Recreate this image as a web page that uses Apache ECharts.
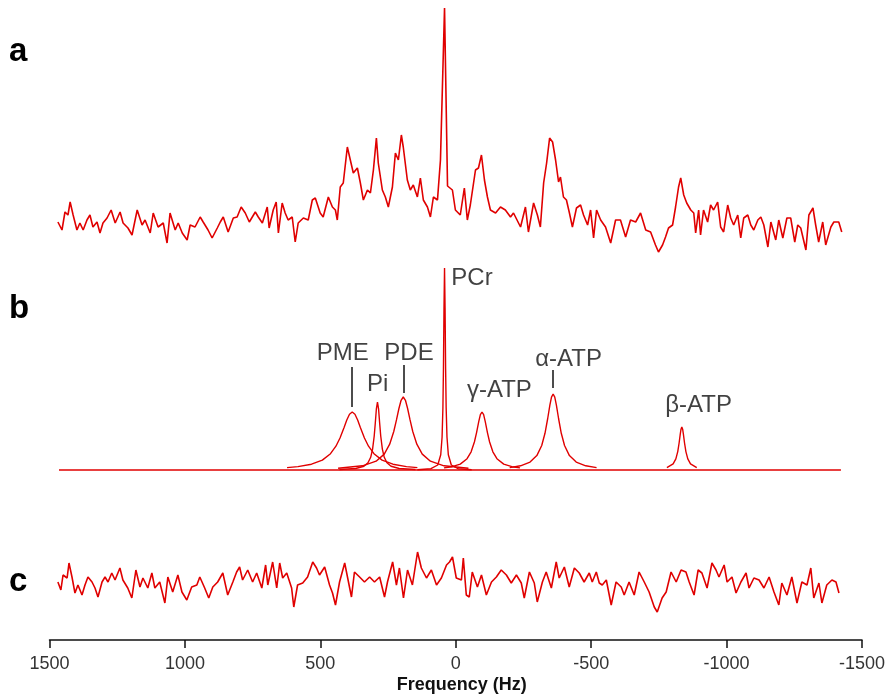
<!DOCTYPE html>
<html>
<head>
<meta charset="utf-8">
<title>31P MR spectrum and fit</title>
<script src="https://cdn.jsdelivr.net/npm/echarts@6/dist/echarts.min.js"></script>
<style>
  html, body { margin: 0; padding: 0; background: #fff; }
  #chart { width: 888px; height: 699px; }
</style>
</head>
<body>
<div id="chart"></div>
<script>
// ---- data (frequency in Hz, intensity in arbitrary units) ----

// a: measured spectrum
const aFreq = [1469, 1454, 1443, 1432, 1424, 1413, 1399, 1388, 1376, 1362, 1351, 1340, 1325, 1314, 1303, 1288, 1273, 1258, 1240, 1229,
  1211, 1196, 1177, 1159, 1148, 1129, 1118, 1100, 1081, 1067, 1056, 1037, 1026, 1011, 993, 982, 964, 945, 934, 916,
  901, 882, 871, 860, 842, 823, 809, 794, 779, 764, 742, 731, 716, 698, 691, 676, 665, 657, 643, 632,
  621, 606, 595, 584, 565, 547, 532, 521, 503, 492, 473, 458, 447, 440, 429, 418, 403, 392, 381, 366,
  355, 344, 329, 318, 307, 296, 289, 274, 263, 252, 237, 226, 215, 204, 197, 182, 171, 160, 145, 134,
  123, 108, 97, 86, 71, 60, 45, 34, 16, 5, -13, -28, -39, -50, -69, -80, -91, -102, -113, -124,
  -143, -161, -179, -198, -209, -235, -253, -264, -283, -297, -308, -320, -331, -342, -353, -364, -375, -382, -393, -404,
  -415, -426, -441, -456, -467, -482, -493, -504, -515, -530, -548, -567, -585, -603, -622, -640, -659, -677, -696, -714,
  -732, -743, -758, -769, -780, -795, -806, -817, -825, -836, -847, -862, -873, -880, -891, -898, -909, -924, -935, -946,
  -961, -972, -983, -998, -1009, -1020, -1035, -1046, -1057, -1072, -1083, -1094, -1109, -1120, -1131, -1146, -1157, -1164, -1175, -1186,
  -1201, -1216, -1230, -1245, -1256, -1267, -1286, -1297, -1312, -1322, -1333, -1348, -1359, -1378, -1389, -1407, -1418];
const aSignal = [4, -4, 14, 11, 24, 11, -4, 3, -4, 6, 11, -1, 4, -7, 3, 8, 16, 3, 14, 3,
  -2, -9, 16, 1, 6, -7, 13, -1, 3, -17, 13, -4, 3, -7, -14, 1, -1, 9, 4, -4,
  -12, -2, 4, 9, -6, 8, 9, 19, 13, 4, 14, 9, 3, 19, -2, 16, 24, -7, 23, 13,
  6, 9, -16, 3, 8, 6, 26, 28, 13, 9, 29, 19, 16, 6, 39, 43, 79, 66, 53, 58,
  43, 26, 36, 33, 56, 88, 63, 36, 29, 19, 39, 73, 66, 91, 79, 46, 36, 41, 29, 48,
  26, 19, 9, 29, 26, 66, 218, 40, 36, 16, 11, 38, 6, 21, 56, 58, 71, 46, 29, 16,
  13, 19, 16, 9, 13, -1, 19, -6, 23, 11, -1, 43, 63, 88, 84, 66, 44, 49, 29, 26,
  13, -1, 18, 21, 11, 1, 16, -12, 16, 6, -1, -17, 6, 6, -11, 6, 4, 13, -4, -6,
  -19, -26, -19, -11, -2, 1, 19, 39, 48, 31, 23, 16, 13, -7, 16, -9, 16, 4, 21, 16,
  24, -1, -6, 21, 8, 1, 11, -12, 8, 11, 1, -4, 6, 9, 1, -21, 4, 6, -14, 6,
  -12, 8, 8, -16, 1, -2, -24, 11, 18, 1, -16, 4, -19, -1, 4, 4, -6];

// b: fitted components
const fitBaseline = [[1465, 0], [-1415, 0]];
const pmeFit = [[625, 2.4], [585, 3.4], [535, 5.8], [495, 9.9], [465, 16.3], [445, 23.8], [430, 32], [415, 42.6], [405, 50], [395, 55.8],
  [385, 58], [375, 55.8], [365, 50], [355, 42.6], [340, 32], [325, 23.8], [305, 16.3], [275, 9.9], [235, 5.8], [185, 3.4], [145, 2.4]];
const piFit = [[432, 0.5], [372, 1.5], [342, 3.7], [327, 7.2], [317, 12.7], [310, 20.9], [304, 34], [300, 47], [296, 61.2],
  [292, 68], [288, 61.2], [284, 47], [280, 34], [274, 20.9], [267, 12.7], [257, 7.2], [242, 3.7], [212, 1.5], [152, 0.5]];
const pdeFit = [[437, 1.7], [347, 4.2], [297, 8.8], [267, 15.9], [247, 25.8], [232, 38.5], [222, 50.1], [213, 61.5], [205, 69.7],
  [197, 73], [189, 69.7], [181, 61.5], [172, 50.1], [162, 38.5], [147, 25.8], [127, 15.9], [97, 8.8], [47, 4.2], [-43, 1.7]];
const pcrFit = [[145, 0.3], [95, 1.3], [70, 5], [59, 15.2], [54, 33], [51, 62], [49, 101], [47, 161.6],
  [45, 202], [43, 161.6], [41, 101], [39, 62], [36, 33], [31, 15.2], [20, 5], [-5, 1.3], [-55, 0.3]];
const gammaAtpFit = [[47, 2.1], [17, 3.3], [-13, 5.9], [-38, 11.3], [-53, 18.2], [-65, 28], [-73, 37.4], [-81, 48.4], [-87, 55.3],
  [-93, 58], [-99, 55.3], [-105, 48.4], [-113, 37.4], [-121, 28], [-133, 18.2], [-148, 11.3], [-173, 5.9], [-203, 3.3], [-233, 2.1]];
const alphaAtpFit = [[-195, 2.4], [-235, 4.2], [-270, 7.9], [-295, 14.4], [-313, 24.5], [-325, 36.7], [-335, 51.5], [-343, 64.9], [-349, 72.9],
  [-355, 76], [-361, 72.9], [-367, 64.9], [-375, 51.5], [-385, 36.7], [-397, 24.5], [-415, 14.4], [-440, 7.9], [-475, 4.2], [-515, 2.4]];
const betaAtpFit = [[-774, 2.3], [-797, 6.1], [-807, 11.1], [-814, 18.4], [-819, 27], [-823, 35.4], [-826, 40.8],
  [-829, 43], [-832, 40.8], [-835, 35.4], [-839, 27], [-844, 18.4], [-851, 11.1], [-861, 6.1], [-884, 2.3]];

// peak labels for b
const peakNames = ['PME', 'Pi', 'PDE', 'PCr', 'γ-ATP', 'α-ATP', 'β-ATP'];
const labelFreq = [420, 291, 176, -56, -157, -412, -891];
const labelHeight = [117, 86, 117, 192, 80, 111, 65];
const leaderFreq = [385, 197, -355];
const leaderLow = [63, 77, 82];
const leaderHigh = [103, 105, 100];

// c: residual
const cFreq = [1469, 1458, 1450, 1435, 1428, 1417, 1406, 1395, 1380, 1369, 1358, 1343, 1332, 1321, 1306, 1295, 1284, 1270, 1258, 1240,
  1229, 1211, 1196, 1181, 1166, 1155, 1137, 1122, 1111, 1093, 1074, 1063, 1045, 1026, 1011, 993, 975, 956, 945, 927,
  912, 897, 879, 860, 842, 823, 809, 798, 787, 768, 750, 735, 716, 702, 694, 676, 661, 650, 639, 624,
  606, 598, 584, 565, 547, 528, 514, 503, 484, 466, 455, 444, 429, 410, 399, 385, 374, 355, 337, 318,
  300, 281, 263, 252, 233, 219, 208, 193, 178, 160, 141, 127, 108, 90, 71, 53, 34, 23, 12, -2,
  -21, -28, -39, -50, -61, -80, -95, -113, -132, -150, -168, -187, -205, -224, -242, -253, -272, -290, -301, -320,
  -334, -353, -371, -382, -401, -419, -438, -456, -474, -493, -504, -519, -530, -541, -556, -574, -592, -611, -622, -640,
  -659, -677, -696, -714, -733, -744, -762, -777, -795, -814, -832, -850, -862, -880, -895, -909, -928, -946, -961, -972,
  -991, -1002, -1020, -1035, -1053, -1072, -1083, -1101, -1120, -1138, -1157, -1175, -1193, -1204, -1223, -1241, -1260, -1278, -1297, -1311,
  -1322, -1341, -1352, -1370, -1389, -1404, -1415];
const cResidual = [1, -7, 8, 5, 20, 6, -10, -2, -12, -2, 6, 1, -5, -14, 1, 6, 1, 10, 3, 15,
  3, -5, -15, 13, -4, 5, -5, 10, -5, 1, -20, 6, -9, 8, -9, -17, -4, -2, 6, -5,
  -15, -4, 1, 10, -12, 1, 11, 16, 3, 13, 1, 10, -5, 18, -2, 21, -5, 20, 5, 10,
  -5, -24, -2, 0, 6, 21, 15, 8, 16, -2, -10, -22, 1, 20, 5, -14, 11, 6, 1, 6,
  1, 6, -14, 1, 21, -2, 15, -15, 13, -2, 31, 15, 5, 13, -2, 5, 18, 21, 26, 5,
  3, 25, -12, -14, 11, -4, 8, -12, 1, 6, 13, 8, 0, 8, 0, -15, 11, 0, -19, 1,
  11, -5, 21, 5, 16, -4, 15, 10, 1, 10, 1, 11, 0, -2, 3, -22, 1, -4, -12, 1,
  -12, 11, 1, -9, -24, -29, -15, -9, 11, 1, 13, 11, 1, -12, 13, 10, -5, 20, 13, 6,
  18, 1, 6, -10, 1, 10, -5, 5, 3, -5, 6, -9, -22, 0, -12, 6, -20, 1, -2, 15,
  -15, 0, -20, -2, 3, 1, -10];

// ---- chart ----
const RED = '#e00000';
const INK = '#111';
const FONT = "'Liberation Sans', Arial, sans-serif";

const pairs = (xs, ys) => xs.map((x, i) => [x, ys[i]]);

const chart = echarts.init(document.getElementById('chart'));

const xBase = { type: 'value', min: -1500, max: 1500, interval: 500, inverse: true };
const gridBase = { left: 49.5, right: 24 };

const traceLine = (data, axis, width) => ({
    type: 'line',
    xAxisIndex: axis,
    yAxisIndex: axis,
    data: data,
    showSymbol: false,
    silent: true,
    lineStyle: { color: RED, width: width },
    z: 3
});

const fitSeries = [fitBaseline, pmeFit, piFit, pdeFit, pcrFit, gammaAtpFit, alphaAtpFit, betaAtpFit]
    .map(d => traceLine(d, 1, 1.4));

// leader lines for PME, PDE and alpha-ATP
fitSeries[0].markLine = {
    silent: true,
    symbol: ['none', 'none'],
    label: { show: false },
    lineStyle: { color: INK, width: 1.5, type: 'solid' },
    data: leaderFreq.map((f, i) => [{ coord: [f, leaderLow[i]] }, { coord: [f, leaderHigh[i]] }])
};

chart.setOption({
    animation: false,
    backgroundColor: '#fff',
    grid: [
        { ...gridBase, top: 0, height: 258 },
        { ...gridBase, top: 262, height: 213 },
        { ...gridBase, top: 545, height: 95 }
    ],
    xAxis: [
        { ...xBase, gridIndex: 0, show: false },
        { ...xBase, gridIndex: 1, show: false },
        {
            ...xBase,
            gridIndex: 2,
            axisLine: { onZero: false, lineStyle: { color: INK, width: 1.5 } },
            axisTick: { inside: false, length: 8, lineStyle: { color: INK, width: 1.5 } },
            axisLabel: {
                margin: 15, color: '#333', fontSize: 18, fontFamily: FONT,
                showMinLabel: true, showMaxLabel: true,
                formatter: v => String(v)
            },
            splitLine: { show: false },
            name: 'Frequency (Hz)',
            nameLocation: 'middle',
            nameGap: 36,
            nameTextStyle: { color: INK, fontSize: 18, fontWeight: 'bold', fontFamily: FONT, padding: [0, 0, 0, 12] }
        }
    ],
    yAxis: [
        { type: 'value', gridIndex: 0, min: -32, max: 226, show: false },
        { type: 'value', gridIndex: 1, min: -5, max: 208, show: false },
        { type: 'value', gridIndex: 2, min: -57, max: 38, show: false }
    ],
    graphic: [
        { type: 'text', x: 9, y: 52, style: { text: 'a', font: 'bold 33px ' + FONT, fill: '#000', verticalAlign: 'middle' } },
        { type: 'text', x: 9, y: 309, style: { text: 'b', font: 'bold 33px ' + FONT, fill: '#000', verticalAlign: 'middle' } },
        { type: 'text', x: 9, y: 582, style: { text: 'c', font: 'bold 33px ' + FONT, fill: '#000', verticalAlign: 'middle' } }
    ],
    series: [
        traceLine(pairs(aFreq, aSignal), 0, 1.6),
        ...fitSeries,
        {
            type: 'scatter',
            xAxisIndex: 1,
            yAxisIndex: 1,
            silent: true,
            symbolSize: 1,
            itemStyle: { color: 'rgba(0,0,0,0)' },
            label: {
                show: true,
                position: 'inside',
                formatter: '{b}',
                color: INK,
                fontSize: 24,
                fontFamily: FONT
            },
            data: peakNames.map((n, i) => ({ name: n, value: [labelFreq[i], labelHeight[i]] })),
            z: 5
        },
        traceLine(pairs(cFreq, cResidual), 2, 1.6)
    ]
});
</script>
</body>
</html>
